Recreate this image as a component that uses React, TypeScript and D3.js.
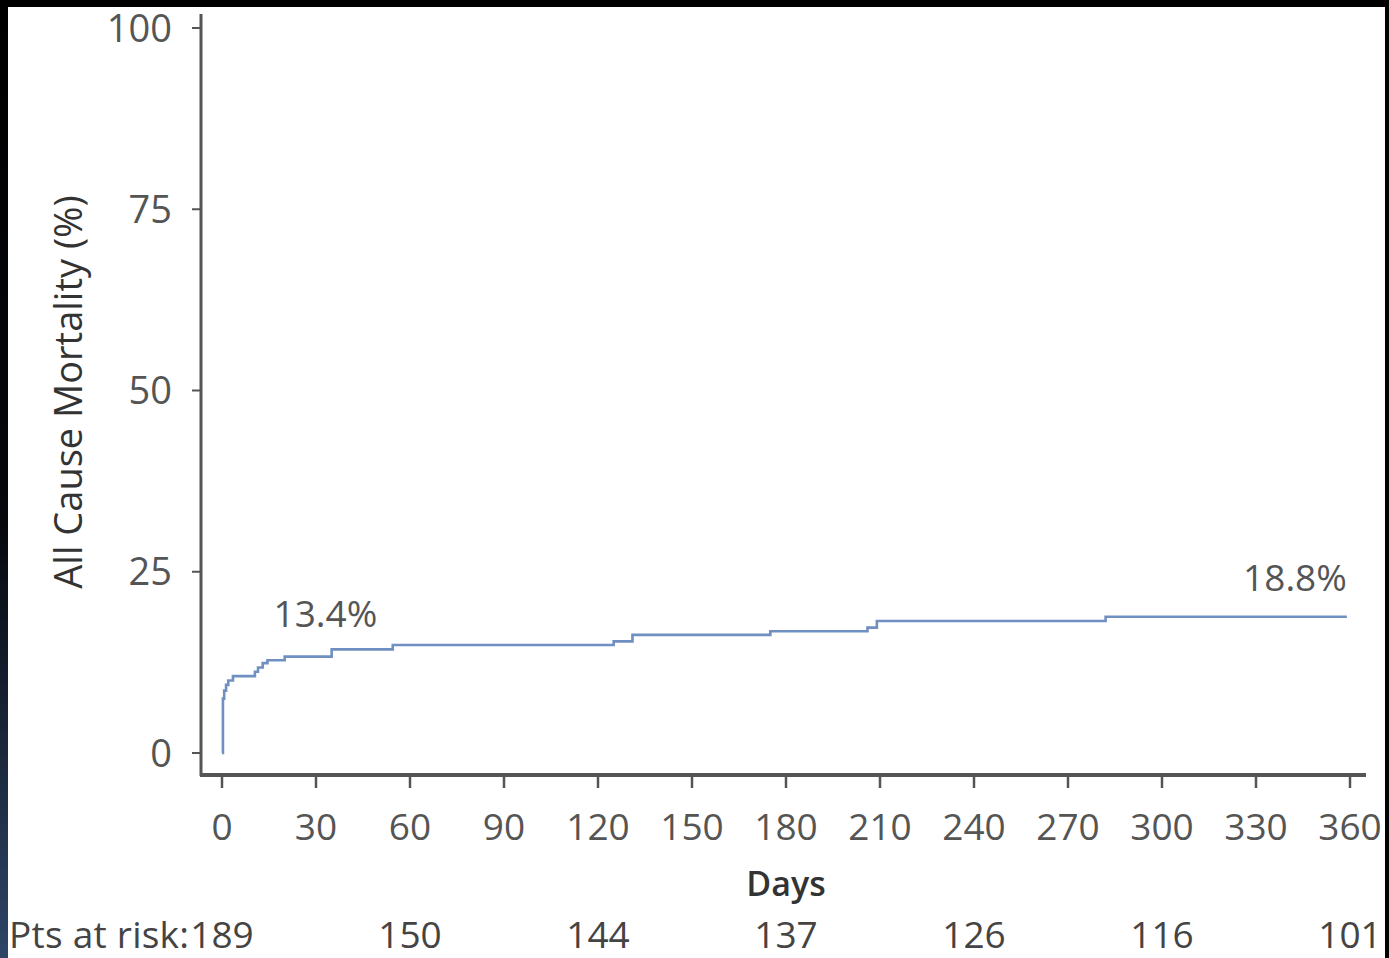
import * as d3 from 'd3';
import { useEffect, useRef } from 'react';

const WIDTH = 1389;
const HEIGHT = 958;

// Kaplan-Meier style cumulative mortality (day, %)
const eventDays = [0, 0.3, 0.7, 1.3, 2, 3.5, 10.5, 11.5, 13, 14.5, 20, 35, 54.5, 125, 131, 175, 206, 209, 282, 359];
const mortalityPct = [0, 7.5, 8.6, 9.4, 10.0, 10.6, 11.2, 11.8, 12.4, 12.8, 13.3, 14.3, 14.9, 15.4, 16.3, 16.8, 17.3, 18.2, 18.8, 18.8];

const yTicks = [0, 25, 50, 75, 100];
const xTicks = [0, 30, 60, 90, 120, 150, 180, 210, 240, 270, 300, 330, 360];

const riskDays = [0, 60, 120, 180, 240, 300, 360];
const riskCounts = [189, 150, 144, 137, 126, 116, 101];

const noteDays = [33, 359];
const notePct = [13.4, 18.8];
const noteText = ['13.4%', '18.8%'];

const FONT = '"Open Sans", "DejaVu Sans", sans-serif';

export default function App() {
    const svgRef = useRef<SVGSVGElement | null>(null);

    useEffect(() => {
        if (!svgRef.current) {
            return;
        }
        const svg = d3.select(svgRef.current);
        svg.selectAll('*').remove();

        const x = d3.scaleLinear().domain([0, 360]).range([222, 1350]);
        const y = d3.scaleLinear().domain([0, 100]).range([753, 28]);
        const axisX = 201;
        const axisY = 775;

        // dark frame around the scanned figure
        const defs = svg.append('defs');
        const grad = defs
            .append('linearGradient')
            .attr('id', 'edge')
            .attr('x1', 0)
            .attr('y1', 0)
            .attr('x2', 0)
            .attr('y2', 1);
        grad.append('stop').attr('offset', '0').attr('stop-color', '#000');
        grad.append('stop').attr('offset', '0.55').attr('stop-color', '#06080d');
        grad.append('stop').attr('offset', '1').attr('stop-color', '#2e4567');

        svg.append('rect').attr('width', WIDTH).attr('height', HEIGHT).attr('fill', '#000');
        svg.append('rect').attr('x', 0).attr('y', 0).attr('width', 8).attr('height', HEIGHT).attr('fill', 'url(#edge)');
        svg.append('rect').attr('x', 8).attr('y', 7).attr('width', 1377).attr('height', HEIGHT - 7).attr('fill', '#fff');

        const axisColor = '#555';
        const labelColor = '#555';

        // y axis
        svg.append('line')
            .attr('x1', axisX).attr('x2', axisX)
            .attr('y1', 14).attr('y2', axisY + 1)
            .attr('stroke', axisColor).attr('stroke-width', 3);
        const yg = svg.append('g');
        yTicks.forEach((t) => {
            yg.append('line')
                .attr('x1', axisX - 9).attr('x2', axisX)
                .attr('y1', y(t)).attr('y2', y(t))
                .attr('stroke', axisColor).attr('stroke-width', 2);
            yg.append('text')
                .attr('x', 172)
                .attr('y', y(t))
                .attr('dy', '0.36em')
                .attr('text-anchor', 'end')
                .attr('font-family', FONT)
                .attr('font-size', 38)
                .attr('fill', labelColor)
                .text(String(t));
        });

        // x axis
        svg.append('line')
            .attr('x1', axisX - 1).attr('x2', 1366)
            .attr('y1', axisY).attr('y2', axisY)
            .attr('stroke', axisColor).attr('stroke-width', 4);
        const xg = svg.append('g');
        xTicks.forEach((t) => {
            xg.append('line')
                .attr('x1', x(t)).attr('x2', x(t))
                .attr('y1', axisY).attr('y2', axisY + 13)
                .attr('stroke', axisColor).attr('stroke-width', 2.5);
            xg.append('text')
                .attr('x', x(t))
                .attr('y', 840)
                .attr('text-anchor', 'middle')
                .attr('font-family', FONT)
                .attr('font-size', 37)
                .attr('fill', labelColor)
                .text(String(t));
        });

        svg.append('text')
            .attr('x', 786)
            .attr('y', 896)
            .attr('text-anchor', 'middle')
            .attr('font-family', FONT)
            .attr('font-size', 34)
            .attr('font-weight', 600)
            .attr('fill', '#333')
            .text('Days');

        svg.append('text')
            .attr('transform', 'translate(82,392) rotate(-90)')
            .attr('text-anchor', 'middle')
            .attr('font-family', FONT)
            .attr('font-size', 38)
            .attr('font-weight', 500)
            .attr('fill', '#333')
            .text('All Cause Mortality (%)');

        // curve
        const pts = eventDays.map((d, i) => [d, mortalityPct[i]] as [number, number]);
        const line = d3
            .line<[number, number]>()
            .x((d) => x(d[0]))
            .y((d) => y(d[1]))
            .curve(d3.curveStepAfter);
        svg.append('path')
            .attr('d', line(pts) ?? '')
            .attr('fill', 'none')
            .attr('stroke', '#7090c2')
            .attr('stroke-width', 2.6);

        // annotations
        noteText.forEach((txt, i) => {
            const last = i === noteText.length - 1;
            svg.append('text')
                .attr('x', x(noteDays[i]))
                .attr('y', y(notePct[i]) - (last ? 26 : 29))
                .attr('text-anchor', last ? 'end' : 'middle')
                .attr('font-family', FONT)
                .attr('font-size', 37)
                .attr('fill', labelColor)
                .text(txt);
        });

        // patients at risk
        svg.append('text')
            .attr('x', 9)
            .attr('y', 948)
            .attr('textLength', 180)
            .attr('font-family', FONT)
            .attr('font-size', 37)
            .attr('fill', '#444')
            .text('Pts at risk:');
        riskDays.forEach((d, i) => {
            svg.append('text')
                .attr('x', x(d))
                .attr('y', 948)
                .attr('text-anchor', 'middle')
                .attr('font-family', FONT)
                .attr('font-size', 37)
                .attr('fill', '#444')
                .text(String(riskCounts[i]));
        });
    }, []);

    return (
        <div style={{ position: 'absolute', left: 0, top: 0 }}>
            <svg ref={svgRef} width={WIDTH} height={HEIGHT} style={{ display: 'block' }} />
        </div>
    );
}
